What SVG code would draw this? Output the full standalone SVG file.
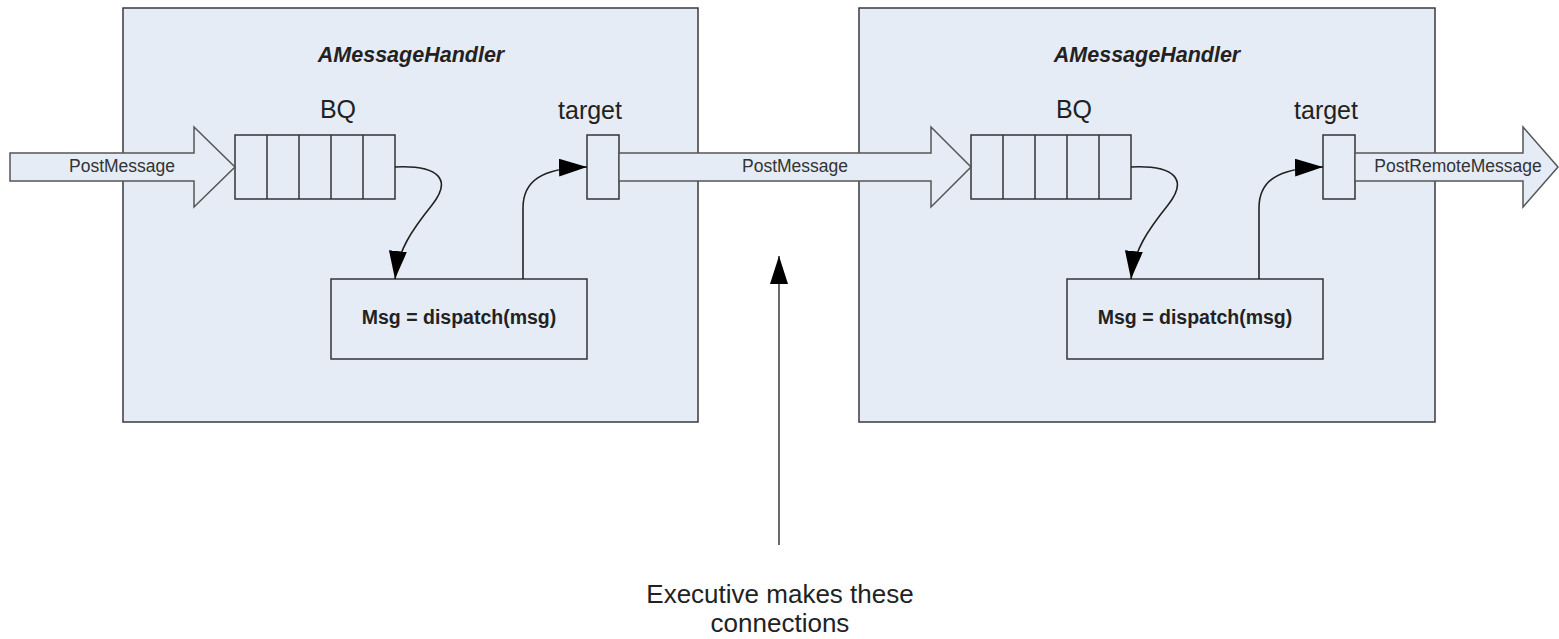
<svg xmlns="http://www.w3.org/2000/svg" width="1559" height="639" viewBox="0 0 1559 639">
<defs>
<style>
.bg{fill:#ffffff}
.cont{fill:#e6ecf6;stroke:#3a3a3a;stroke-width:1.5}
.box{fill:#e6ecf6;stroke:#333333;stroke-width:1.5}
.blk{fill:#e6ecf6;stroke:#555555;stroke-width:1.5}
.conn{fill:none;stroke:#222222;stroke-width:1.6}
text{font-family:"Liberation Sans",Arial,sans-serif;fill:#222222;text-anchor:middle}
.title{font-size:21.5px;font-weight:bold;font-style:italic}
.lbl{font-size:25px}
.arr{font-size:17.5px;fill:#333333}
.disp{font-size:19.5px;font-weight:bold}
.exec{font-size:26px}
</style>
<marker id="ah" viewBox="0 0 28 18" refX="28" refY="9" markerWidth="28" markerHeight="18" markerUnits="userSpaceOnUse" orient="auto">
<path d="M0,0 L28,9 L0,18 Z" fill="#000000"/>
</marker>
</defs>
<rect class="bg" x="0" y="0" width="1559" height="639"/>

<g id="handler1">
<rect class="cont" x="123" y="8" width="575" height="414"/>
<text class="title" x="411" y="62">AMessageHandler</text>
</g>
<g id="handler2">
<rect class="cont" x="859" y="8" width="576" height="414"/>
<text class="title" x="1147" y="62">AMessageHandler</text>
</g>

<g id="bq1">
<text class="lbl" x="338" y="118">BQ</text>
<rect class="box" x="235" y="135" width="160" height="64"/>
<path class="box" d="M267,135V199M299,135V199M331,135V199M363,135V199"/>
</g>
<g id="target1">
<text class="lbl" x="590" y="119">target</text>
<rect class="box" x="587" y="135" width="32" height="64"/>
</g>
<g id="dispatch1">
<rect class="box" x="331" y="279" width="256" height="80"/>
<text class="disp" x="459" y="324">Msg = dispatch(msg)</text>
</g>

<g id="bq2">
<text class="lbl" x="1074" y="118">BQ</text>
<rect class="box" x="971" y="135" width="160" height="64"/>
<path class="box" d="M1003,135V199M1035,135V199M1067,135V199M1099,135V199"/>
</g>
<g id="target2">
<text class="lbl" x="1326" y="119">target</text>
<rect class="box" x="1323" y="135" width="32" height="64"/>
</g>
<g id="dispatch2">
<rect class="box" x="1067" y="279" width="256" height="80"/>
<text class="disp" x="1195" y="324">Msg = dispatch(msg)</text>
</g>

<g id="connectors">
<g id="post-in">
<path class="blk" d="M10,153 H194 V127 L235,167 L194,207 V181 H10 Z"/>
<text class="arr" x="122" y="172">PostMessage</text>
</g>
<g id="post-mid">
<path class="blk" d="M619,153 H931 V127 L971,167 L931,207 V181 H619 Z"/>
<text class="arr" x="795" y="172">PostMessage</text>
</g>
<g id="post-out">
<path class="blk" d="M1355,153 H1523 V127 L1558,167 L1523,207 V181 H1355 Z"/>
<text class="arr" x="1458" y="172">PostRemoteMessage</text>
</g>
<path class="conn" marker-end="url(#ah)" d="M395,167 C440,165 452,180 432,205 C412,230 398,250 395,279"/>
<path class="conn" marker-end="url(#ah)" d="M523,279 V208 C523,182 540,168 587,167"/>
<path class="conn" marker-end="url(#ah)" d="M1131,167 C1176,165 1188,180 1168,205 C1148,230 1134,250 1131,279"/>
<path class="conn" marker-end="url(#ah)" d="M1259,279 V208 C1259,182 1276,168 1323,167"/>
<path class="conn" marker-end="url(#ah)" d="M779,545 V256" style="stroke:#444444"/>
</g>

<g id="note">
<text class="exec" x="780" y="603">Executive makes these</text>
<text class="exec" x="780" y="632">connections</text>
</g>
</svg>
